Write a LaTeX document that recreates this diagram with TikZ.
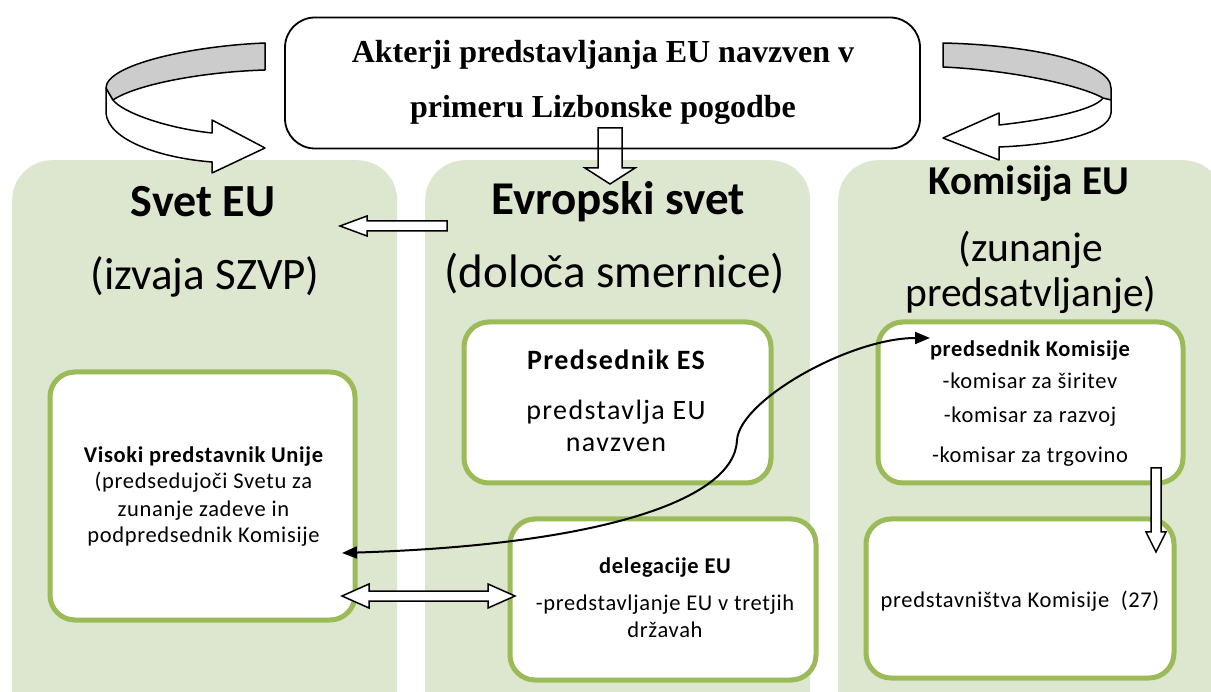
\documentclass[tikz,border=0pt]{standalone}
\usepackage{fontspec}
\setmainfont{Carlito}
\newfontfamily\tnr{Liberation Serif}
\usetikzlibrary{arrows.meta}
\definecolor{colgreen}{HTML}{DDE6CF}
\definecolor{boxgreen}{HTML}{9BBB59}
\definecolor{ribgray}{HTML}{CCCCCC}
\newcommand\myfs[1]{\fontsize{#1}{#1}\selectfont}
\tikzset{
  col/.style={fill=colgreen, draw=none, rounded corners=40pt, inner sep=0pt, anchor=north west, minimum width=385pt, minimum height=580pt},
  ibox/.style={draw=boxgreen, line width=5pt, fill=white, rounded corners=25pt, inner sep=0pt},
  txt/.style={inner sep=0pt, anchor=base},
  head/.style={txt, font=\myfs{46}\bfseries},
  sub/.style={txt, font=\myfs{45}},
  small/.style={txt, font=\myfs{22.5}\addfontfeatures{LetterSpace=3}},
  smallb/.style={txt, font=\myfs{22.5}\bfseries\addfontfeatures{LetterSpace=3}},
  mid/.style={txt, font=\myfs{28}\addfontfeatures{LetterSpace=5}},
  midb/.style={txt, font=\myfs{28}\bfseries\addfontfeatures{LetterSpace=5}},
  ttl/.style={txt, font=\tnr\myfs{32}\bfseries},
  blockarrow/.style={draw=black, line width=1.5pt, fill=white, line join=miter},
  ribbon/.style={draw=black, line width=1.5pt, line join=round},
  thinarrow/.style={draw=black, line width=2pt, {Triangle[length=15pt,width=12pt]}-{Triangle[length=15pt,width=12pt]}}
}
\begin{document}
\begin{tikzpicture}[x=1pt,y=-1pt]
\useasboundingbox (0,0) rectangle (1211,692);
% columns
\node[col] (colL) at (12,160) {};
\node[col] (colM) at (425,160) {};
\node[col] (colR) at (838,160) {};
% headings
\node[head] (hL) at (203,217) {Svet EU};
\node[sub] (sL) at (205,290) {(izvaja SZVP)};
\node[head, font=\myfs{47}\bfseries] (hM) at (618,215) {Evropski svet};
\node[sub, font=\myfs{47}] (sM) at (615,288) {(določa smernice)};
\node[head, font=\myfs{41}\bfseries] (hR) at (1029,195) {Komisija EU};
\node[sub, font=\myfs{41.5}] (sR1) at (1031,262) {(zunanje};
\node[sub, font=\myfs{41.5}] (sR2) at (1031,307) {predsatvljanje)};
% middle down arrow (under title border)
\coordinate (ma) at (610,184);
\draw[blockarrow] (ma) -- ++(25,-16) -- ++(-13,0) -- ++(0,-40) -- ++(-24,0) -- ++(0,40) -- ++(-13,0) -- cycle;
% title box
\node[draw, line width=1.8pt, rounded corners=30pt, minimum width=635pt, minimum height=131pt, inner sep=0pt] (title) at (602.5,83) {};
\node[ttl] (t1) at (603,63) {Akterji predstavljanja EU navzven v};
\node[ttl] (t2) at (603,118) {primeru Lizbonske pogodbe};
% left ribbon arrow
\draw[ribbon, fill=white] (106,88) -- (106,113) .. controls (108,140) and (160,158) .. (212,162) -- (212,173) -- (265,148) -- (212,120) -- (212,133) .. controls (165,128) and (122,112) .. (113,100) -- cycle;
\draw[ribbon, fill=ribgray] (265,43) .. controls (190,46) and (106,65) .. (106,88) -- (113,100) .. controls (135,85) and (200,72) .. (265,70) -- cycle;
% right ribbon arrow
\draw[ribbon, fill=white] (1111,92) -- (1111,113) .. controls (1109,135) and (1050,145) .. (999,147) -- (999,160) -- (943,138) -- (999,113) -- (999,125) .. controls (1045,120) and (1095,110) .. (1103,98) -- cycle;
\draw[ribbon, fill=ribgray] (943,43) .. controls (1030,45) and (1111,62) .. (1111,88) -- (1111,100) -- (1103,98) .. controls (1080,85) and (1010,70) .. (943,67) -- cycle;
% left arrow between Svet EU and Evropski svet
\coordinate (la) at (340,226);
\draw[blockarrow] (la) -- ++(27,-10) -- ++(0,5) -- ++(80,0) -- ++(0,10) -- ++(-80,0) -- ++(0,5) -- cycle;
% inner boxes
\node[ibox, minimum width=305pt, minimum height=248pt] (vis) at (202.5,496) {};
\node[ibox, minimum width=307pt, minimum height=161pt] (pes) at (617.5,402.5) {};
\node[ibox, minimum width=306pt, minimum height=161pt] (del) at (663,599.5) {};
\node[ibox, minimum width=305pt, minimum height=161pt] (pk) at (1030.5,402.5) {};
\node[ibox, minimum width=308pt, minimum height=159pt] (pred) at (1020,598.5) {};
% texts in boxes
\node[smallb] (v1) at (203.5,463) {Visoki predstavnik Unije};
\node[small] (v2) at (203.5,489) {(predsedujoči Svetu za};
\node[small] (v3) at (203.5,517) {zunanje zadeve in};
\node[small] (v4) at (203.5,543) {podpredsednik Komisije};
\node[midb] (p1) at (616,370) {Predsednik ES};
\node[mid] (p2) at (616,420) {predstavlja EU};
\node[mid] (p3) at (616,452) {navzven};
\node[smallb] (d1) at (665,573) {delegacije EU};
\node[small] (d2) at (665,610) {-predstavljanje EU v tretjih};
\node[small] (d3) at (665,637) {državah};
\node[smallb] (k1) at (1030,357) {predsednik Komisije};
\node[small] (k2) at (1030,389) {-komisar za širitev};
\node[small] (k3) at (1030,423) {-komisar za razvoj};
\node[small] (k4) at (1030,463) {-komisar za trgovino};
\node[small] (r1) at (1020,607) {predstavništva Komisije\ \ (27)};
% right down arrow
\coordinate (ra) at (1156,552);
\draw[blockarrow] (ra) -- ++(10,-20) -- ++(-5,0) -- ++(0,-64) -- ++(-10,0) -- ++(0,64) -- ++(-5,0) -- cycle;
% double block arrow between vis and del
\coordinate (da) at (342,596);
\draw[blockarrow] (da) -- ++(27,-12) -- ++(0,7) -- ++(119,0) -- ++(0,-7) -- ++(27,12) -- ++(-27,12) -- ++(0,-7) -- ++(-119,0) -- ++(0,7) -- cycle;
% curved thin double arrow
\coordinate (ca1) at (342,553);
\coordinate (ca2) at (930,338);
\draw[thinarrow] (ca1) .. controls (600,545) and (735,500) .. (737,440) .. controls (740,400) and (850,338) .. (ca2);
\end{tikzpicture}
\end{document}
